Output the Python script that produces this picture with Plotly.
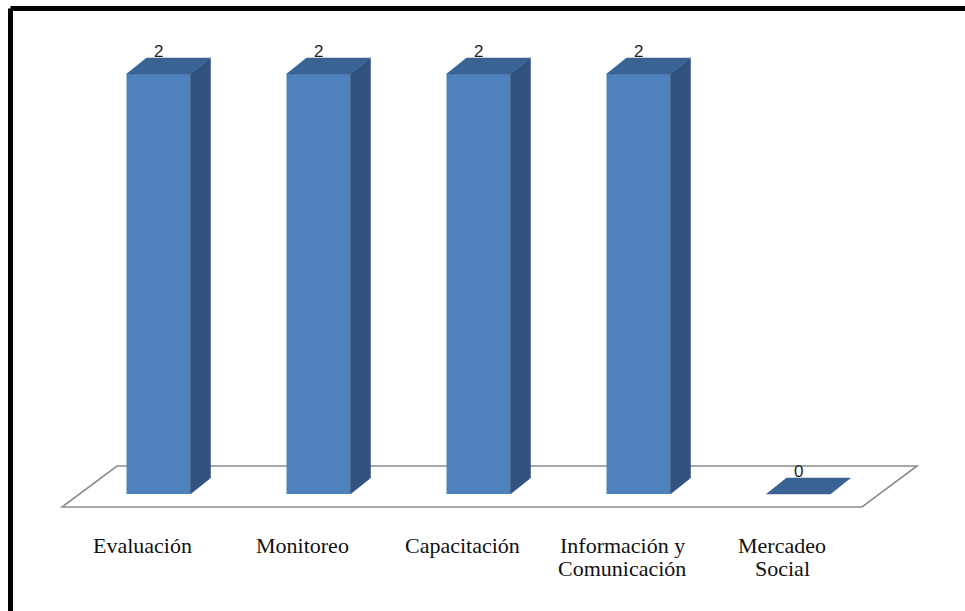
import plotly.graph_objects as go

# ---- data ----
categories = ["Evaluación", "Monitoreo", "Capacitación",
              "Información y<br>Comunicación", "Mercadeo<br>Social"]
values = [2, 2, 2, 2, 0]
value_labels = ["2", "2", "2", "2", "0"]

# ---- styling ----
FRONT = "#4F81BD"
SIDE = "#31527D"
TOP = "#3A6294"
FLOOR_LINE = "#8C8C8C"

W, H = 965, 611
PX_PER_CAT = 160.0     # pixels per category step
PX_PER_UNIT = 210.0    # pixels per value unit
X0_PX = 158.5          # pixel column of category 0 (bar front centre)
Y0_PX = 494.0          # pixel row of value 0

x_range = [(0 - X0_PX) / PX_PER_CAT, (W - X0_PX) / PX_PER_CAT]
y_range = [(Y0_PX - H) / PX_PER_UNIT, Y0_PX / PX_PER_UNIT]

def px_x(p):
    return p / PX_PER_CAT

def px_y(p):
    return p / PX_PER_UNIT

bar_w = px_x(64)             # front face width
dx, dy = px_x(20), px_y(16)  # bar depth offset

# floor slab: front edge a little in front of the bars, back edge behind them
floor_shift = px_x(-16.5)
floor_front_y = px_y(-13)
floor_back_y = px_y(28)
floor_dx = px_x(55)

fig = go.Figure()

n = len(categories)
fl = -0.5 + floor_shift
fr = n - 0.5 + floor_shift
fig.add_shape(
    type="path", xref="x", yref="y", layer="below",
    path=(f"M {fl},{floor_front_y} L {fr},{floor_front_y} "
          f"L {fr + floor_dx},{floor_back_y} L {fl + floor_dx},{floor_back_y} Z"),
    line=dict(color=FLOOR_LINE, width=1.6), fillcolor="white",
)

# front faces
fig.add_trace(go.Bar(
    x=list(range(n)), y=values, width=bar_w,
    marker=dict(color=FRONT, line=dict(width=0)),
    hoverinfo="skip", showlegend=False,
))

# side and top faces
for i, v in enumerate(values):
    l, r = i - bar_w / 2, i + bar_w / 2
    if v > 0:
        fig.add_trace(go.Scatter(
            x=[r, r + dx, r + dx, r, r], y=[0, dy, v + dy, v, 0],
            mode="lines", fill="toself", fillcolor=SIDE,
            line=dict(color=SIDE, width=0.5), hoverinfo="skip", showlegend=False,
        ))
    fig.add_trace(go.Scatter(
        x=[l, r, r + dx, l + dx, l], y=[v, v, v + dy, v + dy, v],
        mode="lines", fill="toself", fillcolor=TOP,
        line=dict(color=TOP, width=0.5), hoverinfo="skip", showlegend=False,
    ))

annotations = []
# value labels above each bar
for i, (v, t) in enumerate(zip(values, value_labels)):
    annotations.append(dict(
        x=i, y=v + dy, xref="x", yref="y", text=t, showarrow=False,
        yanchor="bottom", yshift=-5,
        font=dict(family="Liberation Sans, Arial, sans-serif", size=17, color="#222222"),
    ))

# category labels under the floor
for i, c in enumerate(categories):
    for k, line in enumerate(c.split("<br>")):
        annotations.append(dict(
            x=i + floor_shift, y=0, xref="x", yref="y", text=line, showarrow=False,
            yanchor="middle", yshift=-(51 + 23 * k),
            font=dict(family="Liberation Serif, Times New Roman, serif", size=22, color="#111111"),
        ))

# outer frame (top and left edges)
frame = [
    dict(type="line", xref="paper", yref="paper",
         x0=10.5 / W, y0=1 - 8.5 / H, x1=1.02, y1=1 - 8.5 / H,
         line=dict(color="black", width=5)),
    dict(type="line", xref="paper", yref="paper",
         x0=10.5 / W, y0=1 - 8.5 / H, x1=10.5 / W, y1=-0.02,
         line=dict(color="black", width=5)),
]
for s in frame:
    fig.add_shape(**s)

fig.update_layout(
    width=W, height=H,
    margin=dict(l=0, r=0, t=0, b=0),
    paper_bgcolor="white", plot_bgcolor="white",
    showlegend=False,
    annotations=annotations,
    xaxis=dict(range=x_range, visible=False, fixedrange=True),
    yaxis=dict(range=y_range, visible=False, fixedrange=True),
    barmode="overlay",
)

fig.write_html("out.html")
